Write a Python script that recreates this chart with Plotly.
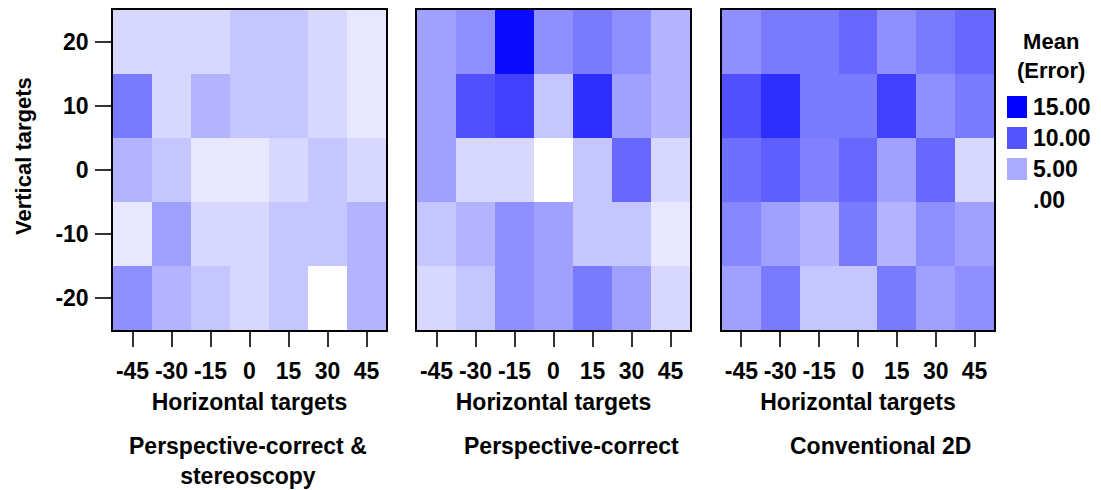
import plotly.graph_objects as go

horizontal = [-45, -30, -15, 0, 15, 30, 45]
vertical = [-20, -10, 0, 10, 20]

# rows listed bottom (-20) to top (20)
stereo = [
    [6.6, 4.5, 3.4, 2.3, 3.4, 0.0, 4.5],
    [1.4, 5.6, 2.3, 2.3, 3.4, 3.4, 4.5],
    [4.5, 3.4, 1.4, 1.4, 2.3, 3.4, 2.3],
    [7.8, 2.3, 4.5, 3.4, 3.4, 2.3, 1.4],
    [2.3, 2.3, 2.3, 3.4, 3.4, 2.3, 1.4],
]
persp = [
    [2.3, 3.4, 6.6, 5.6, 7.8, 5.6, 2.3],
    [3.4, 4.5, 6.6, 5.6, 3.4, 3.4, 1.4],
    [5.6, 2.3, 2.3, 0.0, 3.4, 8.9, 2.3],
    [5.6, 10.3, 11.2, 3.4, 12.3, 5.6, 4.5],
    [5.6, 6.6, 14.4, 6.6, 7.8, 6.6, 4.5],
]
conv = [
    [5.6, 7.8, 3.4, 3.4, 7.8, 5.6, 6.6],
    [7.1, 5.6, 4.5, 7.8, 4.5, 6.6, 5.6],
    [8.5, 9.4, 7.4, 8.9, 5.6, 8.9, 2.3],
    [10.3, 12.3, 7.8, 7.8, 11.2, 6.6, 7.8],
    [6.6, 7.8, 7.8, 8.9, 6.6, 7.8, 8.9],
]
panel_titles = ["Perspective-correct &<br>stereoscopy", "Perspective-correct", "Conventional 2D"]
legend_values = [15, 10, 5, 0]
legend_labels = ["15.00", "10.00", "5.00", ".00"]

ZMAX = 15.0
FONT = "Liberation Sans"
FS = 23
W, H = 1101, 490

def color_of(v):
    c = int(round(255 * (1 - v / ZMAX)))
    return f"rgb({c},{c},255)"

fig = go.Figure()
domains = [(113, 386), (417, 690), (722, 994)]
ydom = [1 - 330 / H, 1 - 10 / H]
title_x = [248, 571, 880]

for i, (z, (x0, x1)) in enumerate(zip([stereo, persp, conv], domains)):
    n = "" if i == 0 else str(i + 1)
    fig.add_trace(go.Heatmap(
        x=horizontal, y=vertical, z=z, zmin=0, zmax=ZMAX,
        colorscale=[[0, "rgb(255,255,255)"], [1, "rgb(0,0,255)"]],
        showscale=False, xaxis="x" + n, yaxis="y" + n,
        hoverongaps=False,
    ))
    axis_common = dict(
        showline=True, linecolor="black", linewidth=1.5, mirror=True,
        ticks="outside", ticklen=15, tickwidth=1.5, tickcolor="#333",
        showgrid=False, zeroline=False,
        tickfont=dict(family=FONT, size=FS, color="black", weight="bold"),
    )
    fig.layout["xaxis" + n] = dict(
        domain=[x0 / W, x1 / W], anchor="y" + n,
        range=[-52.5, 52.5], tickvals=horizontal,
        ticktext=[str(h) for h in horizontal],
        ticklabelstandoff=5,
        title=dict(text="<b>Horizontal targets</b>", standoff=11,
                   font=dict(family=FONT, size=FS, color="black")),
        **axis_common,
    )
    ydict = dict(
        domain=ydom, anchor="x" + n, range=[-25, 25], tickvals=vertical,
        ticktext=[str(v) for v in vertical],
        showticklabels=(i == 0), **axis_common,
    )
    if i == 0:
        ydict["ticklen"] = 16
        ydict["ticklabelstandoff"] = 2
    else:
        ydict["ticks"] = ""
    fig.layout["yaxis" + n] = ydict
    fig.add_annotation(
        x=title_x[i] / W, y=1 - 431 / H, xref="paper", yref="paper",
        text="<b>" + panel_titles[i] + "</b>", showarrow=False,
        xanchor="center", yanchor="top", align="center",
        font=dict(family=FONT, size=FS, color="black"),
    )

# y-axis title
fig.add_annotation(x=23 / W, y=1 - 156 / H, xref="paper", yref="paper",
                   text="<b>Vertical targets</b>", showarrow=False, textangle=-90,
                   xanchor="center", yanchor="middle",
                   font=dict(family=FONT, size=22, color="black"))

# legend
fig.add_annotation(x=1051 / W, y=1 - 56 / H, xref="paper", yref="paper",
                   text="<b>Mean<br>(Error)</b>", showarrow=False,
                   xanchor="center", yanchor="middle", align="center",
                   font=dict(family=FONT, size=22, color="black"))
for k, (v, lab) in enumerate(zip(legend_values, legend_labels)):
    yc = 107 + 31 * k
    fig.add_shape(type="rect", xref="paper", yref="paper",
                  x0=1007 / W, x1=1027 / W, y0=1 - (yc + 11) / H, y1=1 - (yc - 11) / H,
                  fillcolor=color_of(v), line=dict(width=0))
    fig.add_annotation(x=1031 / W, y=1 - yc / H, xref="paper", yref="paper",
                       text="<b>" + lab + "</b>", showarrow=False,
                       xanchor="left", yanchor="middle",
                       font=dict(family=FONT, size=FS, color="black"))

fig.update_layout(
    width=W, height=H, margin=dict(l=0, r=0, t=0, b=0),
    paper_bgcolor="white", plot_bgcolor="white", showlegend=False,
    font=dict(family=FONT, color="black"),
)
fig.write_html("out.html")
